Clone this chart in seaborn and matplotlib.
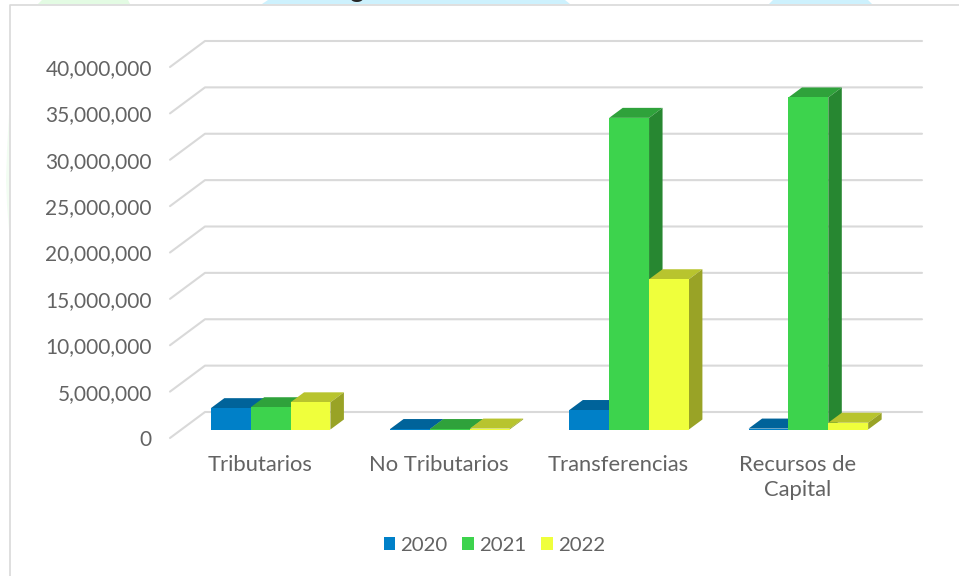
import matplotlib
matplotlib.use('Agg')
import matplotlib.pyplot as plt
import pandas as pd
import seaborn as sns
from matplotlib.colors import to_rgb
from matplotlib.lines import Line2D
from matplotlib.patches import Polygon, Rectangle

categories = ['Tributarios', 'No Tributarios', 'Transferencias', 'Recursos de\nCapital']
years = ['2020', '2021', '2022']
values_2020 = [2300000, 50000, 2100000, 100000]
values_2021 = [2400000, 50000, 33600000, 35800000]
values_2022 = [2930000, 100000, 16200000, 730000]
y_ticks = [0, 5000000, 10000000, 15000000, 20000000, 25000000, 30000000, 35000000, 40000000]

colors = ['#0080C8', '#3DD34D', '#EFFF3C']
grid_color = '#D9D9D9'
text_color = '#636363'

W, H = 959, 576

sns.set_theme(style='white')
plt.rcParams['font.family'] = ['Lato', 'DejaVu Sans']

df = pd.DataFrame({
    'categoria': categories * 3,
    'anio': [y for y in years for _ in categories],
    'valor': values_2020 + values_2021 + values_2022,
})

fig = plt.figure(figsize=(W / 100, H / 100), dpi=100)


def fig_poly(points, color):
    # points in image pixels, the slide background showing around the chart box
    fig.add_artist(Polygon([(x / W, 1 - y / H) for x, y in points], closed=True,
                           fc=color, lw=0, transform=fig.transFigure))


fig_poly([(42, 0), (128, 0), (130, 4), (38, 4)], '#E3FBE3')
fig_poly([(268, 0), (565, 0), (570, 4), (262, 4)], '#CDF1FD')
fig_poly([(773, 0), (868, 0), (872, 4), (769, 4)], '#CDF1FD')
fig_poly([(9, 115), (7, 150), (6, 180), (7, 205), (9, 230)], '#F2FDF2')

# left over from the title, cut off by the crop
fig.text(356 / W, 1 + 2.5 / H, 'g', fontsize=20, color='#262626', ha='center', va='baseline')

# front plane of the fake 3d floor, in pixels
left, right, top, bottom = 170, 887, 67, 438
ax = fig.add_axes([left / W, 1 - bottom / H, (right - left) / W, (bottom - top) / H])

# conversions pixel -> data
px_x = 4 / (right - left)
px_y = 40000000 / (bottom - top)

bar_dx, bar_dy = 11 * px_x, 8.5 * px_y
depth_x, depth_y = 13.5 * px_x, 10 * px_y
wall_x, wall_y = 35 * px_x, 26 * px_y

sns.barplot(data=df, x='categoria', y='valor', hue='anio', hue_order=years,
            palette=colors, width=0.667, gap=0, dodge=True, ax=ax,
            bottom=bar_dy, legend=False, saturation=1, errorbar=None)
ax.set_xlim(-0.5, 3.5)
ax.set_ylim(0, 40000000)

# gridlines run up the left wall and then along the back
for v in y_ticks:
    ax.plot([-0.5, -0.5 + wall_x, 3.5 + wall_x], [v, v + wall_y, v + wall_y],
            color=grid_color, lw=1.5, clip_on=False, zorder=1, solid_capstyle='round')

# side and top faces come from the bars seaborn drew
bars = sorted(ax.patches, key=lambda p: p.get_x())
for i, p in enumerate(bars):
    p.set_x(p.get_x() + bar_dx)
    p.set_clip_on(False)
    p.set_linewidth(0)
    p.set_zorder(2 + i * 0.1 + 0.02)
    x0, x1 = p.get_x(), p.get_x() + p.get_width()
    y0, y1 = p.get_y(), p.get_y() + p.get_height()
    rgb = to_rgb(p.get_facecolor()[:3])
    top_face = Polygon([(x0, y1), (x1, y1), (x1 + depth_x, y1 + depth_y), (x0 + depth_x, y1 + depth_y)],
                       closed=True, fc=[c * 0.77 for c in rgb], lw=0, clip_on=False, zorder=2 + i * 0.1)
    side_face = Polygon([(x1, y0), (x1 + depth_x, y0 + depth_y), (x1 + depth_x, y1 + depth_y), (x1, y1)],
                        closed=True, fc=[c * 0.64 for c in rgb], lw=0, clip_on=False, zorder=2 + i * 0.1 + 0.01)
    ax.add_patch(top_face)
    ax.add_patch(side_face)

ax.set_yticks(y_ticks)
ax.set_yticklabels([f'{v:,}' for v in y_ticks])
ax.tick_params(axis='y', length=0, pad=13, labelsize=15, labelcolor=text_color)
ax.tick_params(axis='x', length=0, pad=12, labelsize=15.8, labelcolor=text_color)
for label in ax.get_xticklabels():
    label.set_linespacing(1.35)
ax.set_xlabel('')
ax.set_ylabel('')
sns.despine(ax=ax, left=True, bottom=True, top=True, right=True)
ax.patch.set_alpha(0)

handles = [Rectangle((0, 0), 1, 1, fc=c, lw=0) for c in colors]
fig.legend(handles, years, loc='center', bbox_to_anchor=(494.5 / W, 1 - 545.5 / H), ncol=3, frameon=False,
           fontsize=14.7, labelcolor=text_color, handlelength=0.58, handleheight=0.58,
           handletextpad=0.25, columnspacing=0.72)

# frame of the chart box
fig.add_artist(Line2D([10 / W, 10 / W, 1], [0, 1 - 4.5 / H, 1 - 4.5 / H], color='#D9D9D9', lw=1.2))

fig.savefig('out.png', dpi=100)
